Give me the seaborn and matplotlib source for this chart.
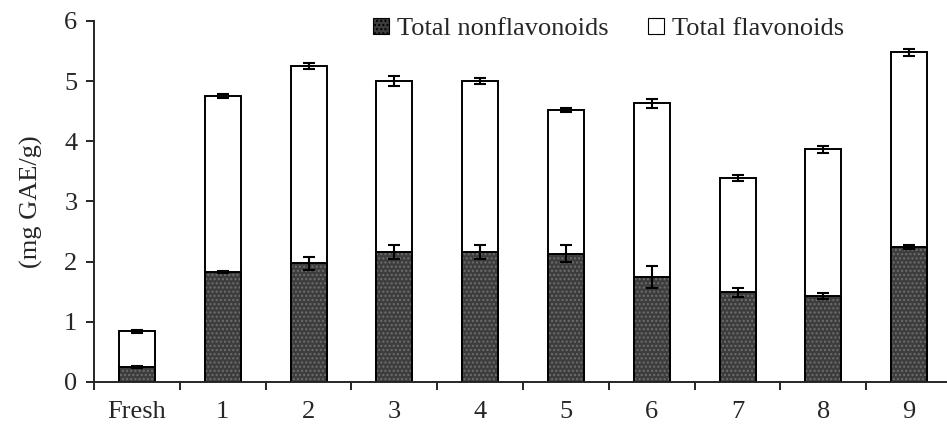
import matplotlib
matplotlib.use("Agg")
import matplotlib.pyplot as plt
import numpy as np
import pandas as pd
import seaborn as sns
from matplotlib.patches import Patch

samples = ["Fresh", "1", "2", "3", "4", "5", "6", "7", "8", "9"]
nonflavonoids = [0.25, 1.83, 1.97, 2.16, 2.16, 2.13, 1.75, 1.49, 1.43, 2.24]
nonflavonoids_err = [0.02, 0.02, 0.11, 0.11, 0.11, 0.14, 0.18, 0.08, 0.05, 0.03]
totals = [0.84, 4.75, 5.25, 5.00, 5.00, 4.52, 4.63, 3.39, 3.87, 5.48]
totals_err = [0.02, 0.03, 0.05, 0.08, 0.05, 0.03, 0.07, 0.05, 0.06, 0.06]
flavonoids = [t - n for t, n in zip(totals, nonflavonoids)]

df = pd.DataFrame({"sample": samples, "nonflav": nonflavonoids,
                   "flav": flavonoids, "total": totals})

sns.set_style("ticks")
plt.rcParams["font.family"] = ["Liberation Serif", "DejaVu Serif"]

fig = plt.figure(figsize=(9.47, 4.43), dpi=100)
ax = fig.add_axes([0.0993, 0.1377, 0.9060, 0.8149])

bw = 0.42
dark = "#3d3d3d"
fs = 19

# total (white, top part) first, then the dark nonflavonoid part over it
sns.barplot(data=df, x="sample", y="total", color="white", width=bw,
            edgecolor="black", linewidth=1.4, saturation=1, ax=ax)
sns.barplot(data=df, x="sample", y="nonflav", color=dark, width=bw,
            edgecolor="#6e6e6e", linewidth=0, hatch="....", saturation=1, ax=ax)
sns.barplot(data=df, x="sample", y="nonflav", fill=False, width=bw,
            edgecolor="black", linewidth=1.4, ax=ax)

xpos = np.arange(len(samples))
ax.errorbar(xpos, totals, yerr=totals_err, fmt="none", ecolor="black",
            elinewidth=1.5, capsize=4.5, capthick=1.5, zorder=5)
ax.errorbar(xpos, nonflavonoids, yerr=nonflavonoids_err, fmt="none", ecolor="black",
            elinewidth=1.5, capsize=4.5, capthick=1.5, zorder=5)

ax.set_xlim(-0.5, 9.5)
ax.set_ylim(0, 6)
ax.set_yticks(range(7))
ax.set_xlabel("")
ax.set_ylabel("(mg GAE/g)", fontsize=fs, labelpad=15)
ax.set_xticks(xpos)
ax.set_xticklabels(samples)
ax.set_xticks(np.arange(-0.5, 10, 1), minor=True)
ax.tick_params(axis="x", which="major", length=0, pad=14, labelsize=fs)
ax.tick_params(axis="x", which="minor", length=6, width=1.4, direction="out")
ax.tick_params(axis="y", length=6, width=1.4, direction="out", labelsize=fs, pad=6)
for side in ["top", "right"]:
    ax.spines[side].set_visible(False)
for side in ["left", "bottom"]:
    ax.spines[side].set_linewidth(1.4)

handles = [Patch(facecolor=dark, edgecolor="black", hatch="....", linewidth=0.8),
           Patch(facecolor="white", edgecolor="black", linewidth=0.8)]
ax.legend(handles, ["Total nonflavonoids", "Total flavonoids"], ncol=2,
          frameon=False, fontsize=fs, loc="upper left",
          bbox_to_anchor=(0.298, 1.075), handlelength=0.6, handleheight=0.6,
          handletextpad=0.3, columnspacing=1.5)

fig.savefig("out.png", dpi=100)
